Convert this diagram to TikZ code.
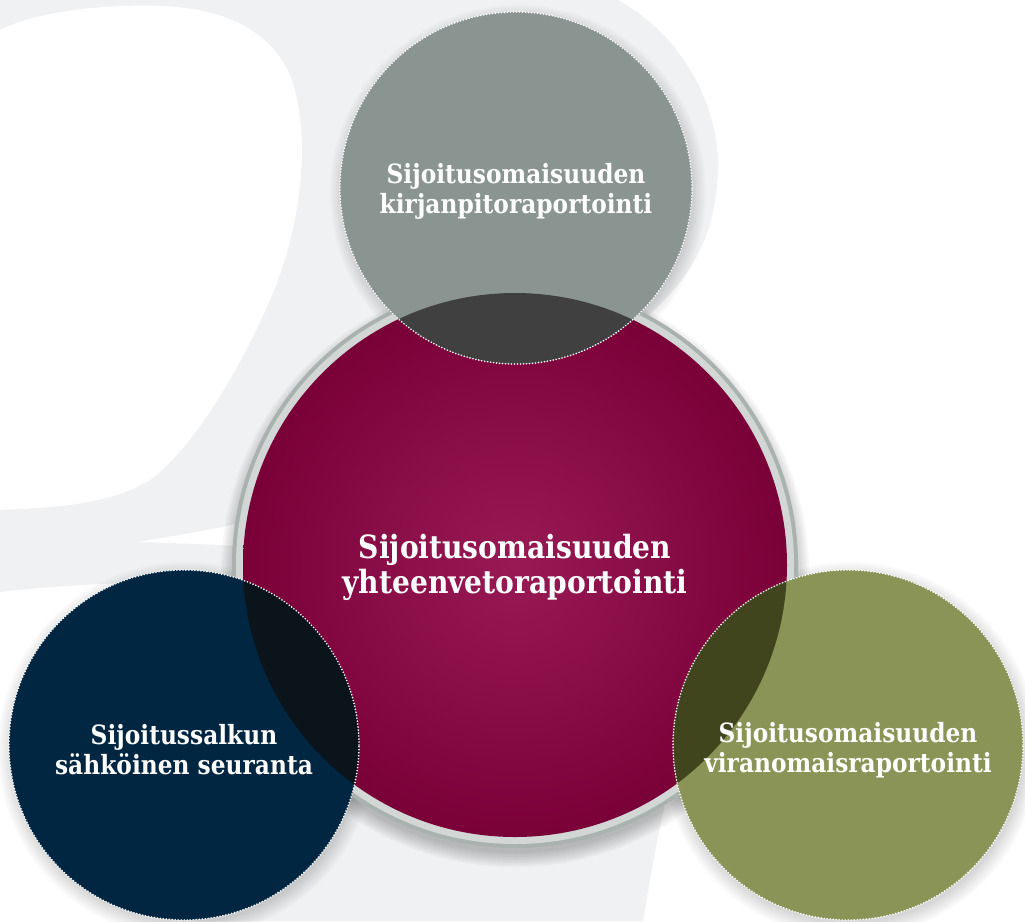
\documentclass[tikz,border=0pt]{standalone}
\usepackage{fontspec}
\setmainfont{DejaVu Serif}[FakeStretch=0.88]
\usetikzlibrary{calc}
\definecolor{bgGray}{HTML}{F0F1F3}
\definecolor{topGray}{HTML}{8A9592}
\definecolor{topDark}{HTML}{404040}
\definecolor{navyBlue}{HTML}{002642}
\definecolor{navyDark}{HTML}{0B131B}
\definecolor{oliveGreen}{HTML}{8A9456}
\definecolor{oliveDark}{HTML}{41451D}
\definecolor{crimsonLight}{HTML}{981A55}
\definecolor{crimsonDark}{HTML}{7A0038}
\definecolor{ringOuter}{HTML}{A9B2AF}
\definecolor{ringInner}{HTML}{D2D7D5}

\begin{document}
\begin{tikzpicture}[x=1pt,y=-1pt,every node/.style={circle,inner sep=0pt,outer sep=0pt},
ball/.style={minimum size=350pt},
dotborder/.style={draw=white,line width=1.8pt,dash pattern=on 0pt off 3pt,line cap=round},
caption/.style={rectangle,text=white,align=center,font=\fontsize{26.5}{30}\selectfont\bfseries},
halo/.style={fill=black,opacity=0.02}
]
\useasboundingbox (0,0) rectangle (1025,921);
\fill[white] (0,0) rectangle (1025,921);
% background glyph
\fill[bgGray] (0,0) -- (618,0) .. controls (690,40) and (725,120) .. (717,185) .. controls (712,240) and (690,280) .. (645,318) -- (720,560) -- (664,808) .. controls (655,850) and (648,890) .. (643,921) -- (0,921) -- cycle;
\fill[white] (0,30) .. controls (40,10) and (110,4) .. (160,6) .. controls (230,8) and (280,35) .. (295,90) .. controls (310,150) and (300,230) .. (270,300) .. controls (235,380) and (190,450) .. (150,480) .. controls (110,505) and (50,508) .. (0,510) -- cycle;
\fill[white] (138,542) .. controls (180,535) and (210,530) .. (240,523) -- (240,546) .. controls (200,544) and (170,543) .. (138,542) -- cycle;
\fill[white] (0,592) .. controls (50,586) and (120,582) .. (190,582) -- (190,921) -- (0,921) -- cycle;

\coordinate (pCore) at (515,565);
\coordinate (pTop) at (516,188);
\coordinate (pLeft) at (184,745);
\coordinate (pRight) at (848,745);

% soft shadows
\foreach \p in {pTop,pLeft,pRight}{
  \foreach \i in {1,...,8}
    \fill[halo] ($(\p)+(2,5)$) circle ({(172+2*\i)*1pt});
}
\foreach \i in {1,...,8}
  \fill[halo,opacity=0.03] ($(pCore)+(0,8)$) circle ({(278+2*\i)*1pt});

% centre circle
\node[fill=ringOuter,minimum size=566pt] (nRing) at (pCore) {};
\fill[ringInner] (nRing.center) circle (279pt);
\node[shade,shading=radial,inner color=crimsonLight,outer color=crimsonDark,minimum size=544pt] (nCore) at (pCore) {};

% outer circles
\node[ball,fill=topGray,minimum size=352pt] (nTop) at (pTop) {};
\node[ball,fill=navyBlue] (nLeft) at (pLeft) {};
\node[ball,fill=oliveGreen] (nRight) at (pRight) {};

\begin{scope}
  \clip (nCore.center) circle (272pt);
  \fill[topDark] (nTop.center) circle (176pt);
  \fill[navyDark] (nLeft.center) circle (175pt);
  \fill[oliveDark] (nRight.center) circle (175pt);
\end{scope}

\draw[dotborder] (nTop.center) circle (176pt);
\draw[dotborder] (nLeft.center) circle (175pt);
\draw[dotborder] (nRight.center) circle (175pt);

\node[caption] (tTop) at ($(nTop.center)+(0,3)$) {Sijoitusomaisuuden\\kirjanpitoraportointi};
\node[caption] (tLeft) at ($(nLeft.center)+(0,5)$) {Sijoitussalkun\\sähköinen seuranta};
\node[caption] (tRight) at ($(nRight.center)+(0,5)$) {Sijoitusomaisuuden\\viranomaisraportointi};
\node[caption,font=\fontsize{32}{35}\selectfont\bfseries] (tCore) at ($(nCore.center)+(0,2)$) {Sijoitusomaisuuden\\yhteenvetoraportointi};
\end{tikzpicture}
\end{document}
